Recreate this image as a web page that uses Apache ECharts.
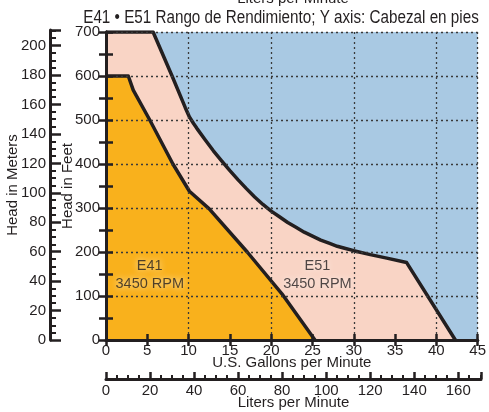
<!DOCTYPE html>
<html>
<head>
<meta charset="utf-8">
<script src="https://cdn.jsdelivr.net/npm/echarts@6/dist/echarts.min.js"></script>
<style>
  html, body { margin: 0; padding: 0; background: #ffffff; }
  #chart { width: 489px; height: 412px; }
</style>
</head>
<body>
<div id="chart"></div>
<script>
// Performance envelopes: [US gallons per minute, head in feet]
const e51Curve = [
  [0, 700], [5.7, 700], [8.0, 600], [9.6, 528], [10.1, 507], [10.6, 492],
  [11, 481], [12, 455], [13, 430], [14, 407], [15, 385], [16, 364], [17, 344],
  [18, 325], [19, 308], [20, 293], [21, 280], [22, 267], [23, 256], [24, 245],
  [25, 236], [26, 227], [27, 220], [28, 213], [29, 208], [30, 203], [32, 194],
  [34, 186], [36.4, 176], [42.3, 0]
];
const e41Curve = [
  [0, 600], [2.7, 600], [3.3, 568], [5.3, 500], [8.1, 400], [10.1, 338],
  [12.5, 298], [17.1, 200], [21.3, 105], [25.3, 0]
];
// Model labels: [gpm, feet, name, speed]
const modelLabels = [
  [5.3, 148, 'E41', '3450 RPM'],
  [25.6, 148, 'E51', '3450 RPM']
];
const gpmMax = 45;
const feetMax = 700;
const metersMax = 210.6;
const litersMax = 170.34;
const titleText = 'E41 • E51 Rango de Rendimiento; Y axis: Cabezal en pies';

const ink = '#231f20';
const font = "'Liberation Sans', Arial, Helvetica, sans-serif";
const dotted = { show: true, lineStyle: { type: [2, 3], color: '#3a3a3a', width: 1.3 } };

const chart = echarts.init(document.getElementById('chart'), null, { renderer: 'canvas' });

const frameAxis = {
  axisLine: { show: true, lineStyle: { color: ink, width: 3 } },
  axisTick: { show: true, inside: true, length: 7, lineStyle: { color: ink, width: 2.5 } },
  splitLine: { show: false },
  z: 6
};
const hiddenAxis = {
  axisLine: { show: false }, axisTick: { show: false }, axisLabel: { show: false }
};
const labelStyle = { color: ink, fontSize: 15, fontFamily: font };
const nameStyle = { color: ink, fontSize: 15, fontFamily: font };

chart.setOption({
  animation: false,
  backgroundColor: '#ffffff',
  graphic: [
    {
      // condensed title line
      type: 'text', x: 281, y: 18, scaleX: 0.87, scaleY: 1,
      style: { text: titleText, fontSize: 17.5, fontFamily: font, fill: ink, align: 'center', verticalAlign: 'middle' }
    },
    {
      type: 'text', x: 293, y: -1,
      style: { text: 'Liters per Minute', fontSize: 15, fontFamily: font, fill: ink, align: 'center', verticalAlign: 'middle' }
    }
  ],
  grid: [
    { left: 106, top: 32, width: 375, height: 308, show: true, backgroundColor: '#a9c9e3', borderWidth: 0 },
    { left: 50, top: 30, width: 1, height: 310 },
    { left: 106, top: 370, width: 375, height: 9 }
  ],
  xAxis: [
    Object.assign({}, frameAxis, {
      gridIndex: 0, type: 'value', min: 0, max: gpmMax, interval: 5, position: 'bottom',
      axisTick: { show: true, inside: true, length: 6, lineStyle: { color: ink, width: 2.5 } },
      axisLabel: Object.assign({ margin: 3 }, labelStyle),
      name: 'U.S. Gallons per Minute', nameLocation: 'middle', nameGap: 15, nameMoveOverlap: false,
      nameTextStyle: nameStyle
    }),
    Object.assign({}, frameAxis, {
      gridIndex: 0, type: 'value', min: 0, max: gpmMax, interval: 5, position: 'top',
      axisTick: { show: true, inside: true, length: 6, lineStyle: { color: ink, width: 2.5 } },
      axisLabel: { show: false }
    }),
    Object.assign({}, hiddenAxis, {
      gridIndex: 0, type: 'value', min: 0, max: gpmMax, interval: 10, position: 'bottom',
      splitLine: dotted, z: 4
    }),
    Object.assign({}, hiddenAxis, { gridIndex: 1, type: 'value', min: 0, max: 1, show: false }),
    {
      gridIndex: 2, type: 'value', min: 0, max: litersMax, interval: 20, position: 'bottom',
      axisLine: { show: true, lineStyle: { color: ink, width: 3 } },
      axisTick: { show: true, inside: true, length: 7, lineStyle: { color: ink, width: 2.5 } },
      minorTick: { show: true, splitNumber: 4, length: 4, lineStyle: { color: ink, width: 2 } },
      splitLine: { show: false },
      axisLabel: Object.assign({ margin: 4, formatter: v => (v % 20 === 0 ? String(v) : '') }, labelStyle),
      name: 'Liters per Minute', nameLocation: 'middle', nameGap: 16, nameMoveOverlap: false,
      nameTextStyle: nameStyle
    }
  ],
  yAxis: [
    Object.assign({}, frameAxis, {
      gridIndex: 0, type: 'value', min: 0, max: feetMax, interval: 50, position: 'left',
      axisLabel: Object.assign({ margin: 6, formatter: v => (v % 100 === 0 ? String(v) : '') }, labelStyle),
      name: 'Head in Feet', nameLocation: 'middle', nameGap: 31, nameMoveOverlap: false,
      nameTextStyle: nameStyle
    }),
    Object.assign({}, frameAxis, {
      gridIndex: 0, type: 'value', min: 0, max: feetMax, interval: 50, position: 'right',
      axisLabel: { show: false }
    }),
    Object.assign({}, hiddenAxis, {
      gridIndex: 0, type: 'value', min: 0, max: feetMax, interval: 100, position: 'left',
      splitLine: dotted, z: 4
    }),
    {
      gridIndex: 1, type: 'value', min: 0, max: metersMax, interval: 20, position: 'left',
      axisLine: { show: true, lineStyle: { color: ink, width: 3 } },
      axisTick: { show: true, inside: true, length: 11, lineStyle: { color: ink, width: 2.5 } },
      minorTick: { show: true, splitNumber: 4, length: 6, lineStyle: { color: ink, width: 2 } },
      splitLine: { show: false },
      axisLabel: Object.assign({ margin: 4, formatter: v => (v % 20 === 0 ? String(v) : '') }, labelStyle),
      name: 'Head in Meters', nameLocation: 'middle', nameGap: 30, nameMoveOverlap: false,
      nameTextStyle: nameStyle
    },
    Object.assign({}, hiddenAxis, { gridIndex: 2, type: 'value', min: 0, max: 1, show: false })
  ],
  series: [
    {
      name: 'E51', type: 'line', xAxisIndex: 0, yAxisIndex: 0, data: e51Curve,
      symbol: 'none', smooth: false, z: 2,
      lineStyle: { color: ink, width: 3.5, join: 'round' },
      areaStyle: { color: '#f9d4c5', opacity: 1 }
    },
    {
      name: 'E41', type: 'line', xAxisIndex: 0, yAxisIndex: 0, data: e41Curve,
      symbol: 'none', smooth: false, z: 3,
      lineStyle: { color: ink, width: 3.5, join: 'round' },
      areaStyle: { color: '#f9b11c', opacity: 1 }
    },
    {
      type: 'scatter', xAxisIndex: 0, yAxisIndex: 0, symbolSize: 0, z: 7,
      data: modelLabels.map(d => ({ value: [d[0], d[1]], name: d[2], speed: d[3] })),
      label: {
        show: true, position: 'inside',
        formatter: p => p.data.name + '\n' + p.data.speed,
        color: ink, fontSize: 14.5, fontFamily: font, lineHeight: 18, align: 'center',
        textShadowColor: '#ffffff', textShadowBlur: 6
      }
    }
  ]
});
</script>
</body>
</html>
